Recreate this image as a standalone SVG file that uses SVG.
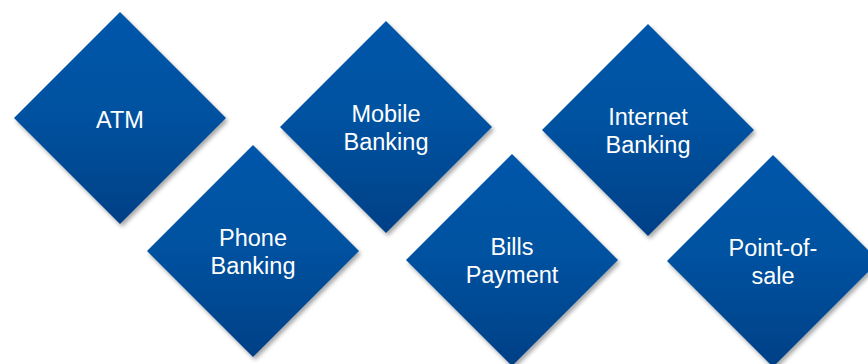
<svg xmlns="http://www.w3.org/2000/svg" xmlns:xlink="http://www.w3.org/1999/xlink" width="868" height="364" viewBox="0 0 868 364">
  <defs>
    <linearGradient id="g" x1="0" y1="0" x2="0" y2="1">
      <stop offset="0" stop-color="#0056AA"/>
      <stop offset="0.5" stop-color="#00519F"/>
      <stop offset="1" stop-color="#004086"/>
    </linearGradient>
    <filter id="sh" x="-20%" y="-20%" width="140%" height="140%">
      <feGaussianBlur in="SourceAlpha" stdDeviation="2"/>
      <feOffset dx="1.5" dy="2.5" result="b"/>
      <feComponentTransfer><feFuncA type="linear" slope="0.35"/></feComponentTransfer>
      <feMerge><feMergeNode/><feMergeNode in="SourceGraphic"/></feMerge>
    </filter>
    <polygon id="d" points="0,-106 106,0 0,106 -106,0"/>
  </defs>
  <style>
    .shape { fill: url(#g); filter: url(#sh); }
    text { font-family: "Liberation Sans", Arial, sans-serif; font-size: 23.5px; fill: #ffffff; text-anchor: middle; }
  </style>
  <g id="connectors"/>
  <g id="atm" transform="translate(120,118)">
    <use xlink:href="#d" class="shape"/>
    <text x="0" y="10">ATM</text>
  </g>
  <g id="phone-banking" transform="translate(253,251)">
    <use xlink:href="#d" class="shape"/>
    <text x="0" y="-5.5">Phone</text>
    <text x="0" y="23">Banking</text>
  </g>
  <g id="mobile-banking" transform="translate(386,127)">
    <use xlink:href="#d" class="shape"/>
    <text x="0" y="-5.5">Mobile</text>
    <text x="0" y="23">Banking</text>
  </g>
  <g id="bills-payment" transform="translate(512,260)">
    <use xlink:href="#d" class="shape"/>
    <text x="0" y="-5.5">Bills</text>
    <text x="0" y="23">Payment</text>
  </g>
  <g id="internet-banking" transform="translate(648,130)">
    <use xlink:href="#d" class="shape"/>
    <text x="0" y="-5.5">Internet</text>
    <text x="0" y="23">Banking</text>
  </g>
  <g id="point-of-sale" transform="translate(773,261)">
    <use xlink:href="#d" class="shape"/>
    <text x="0" y="-5.5">Point-of-</text>
    <text x="0" y="23">sale</text>
  </g>
</svg>
